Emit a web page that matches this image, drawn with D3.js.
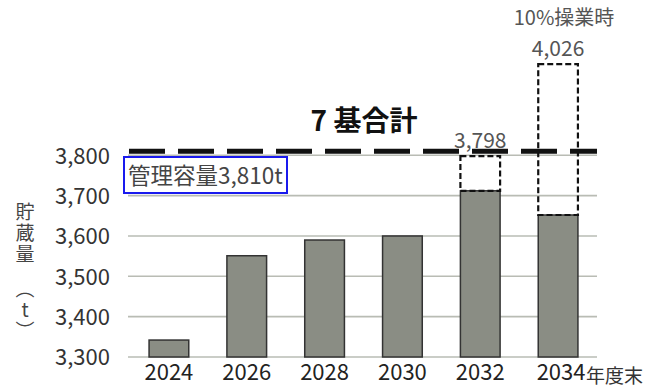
<!DOCTYPE html>
<html>
<head>
<meta charset="utf-8">
<script src="https://cdn.jsdelivr.net/npm/d3@7"></script>
<style>
  body { margin: 0; background: #fff; }
  svg text { font-family: "Noto Sans CJK JP", "Noto Sans", sans-serif; }
</style>
</head>
<body>
<div id="chart"></div>
<script>
// data
const years = ["2024", "2026", "2028", "2030", "2032", "2034"];
const stock = [3342, 3551, 3590, 3600, 3712, 3652];
const extra = [null, null, null, null, 3798, 4026];   // dashed boxes
const extraLabels = [null, null, null, null, "3,798", "4,026"];
const yTicks = [3300, 3400, 3500, 3600, 3700, 3800];
const capacity = 3810;

const W = 660, H = 390;

const svg = d3.select("#chart").append("svg")
    .attr("width", W)
    .attr("height", H);

// scales
const x = d3.scaleBand()
    .domain(years)
    .range([130, 597])
    .paddingInner(0.49)
    .paddingOuter(0.245);

const y = d3.scaleLinear()
    .domain([3300, 3800])
    .range([357, 155.3]);

const fmt = d3.format(",");

// gridlines
svg.append("g").selectAll("line")
    .data(yTicks)
    .enter().append("line")
    .attr("x1", 128).attr("x2", 597)
    .attr("y1", d => y(d)).attr("y2", d => y(d))
    .attr("stroke", "#b9bcb4")
    .attr("stroke-width", 1.6);

// y axis labels
let yAxis = d3.axisLeft(y).tickValues(yTicks).tickFormat(fmt).tickSize(0).tickPadding(0);
let gy = svg.append("g").attr("transform", "translate(110,0)").call(yAxis);
gy.select(".domain").remove();
gy.selectAll("text")
    .attr("font-size", "22px")
    .attr("fill", "#333")
    .attr("dy", "0.35em");

// x axis labels
let xAxis = d3.axisBottom(x).tickSize(0).tickPadding(0);
let gx = svg.append("g").attr("transform", "translate(0,363)").call(xAxis);
gx.select(".domain").remove();
gx.selectAll("text")
    .attr("font-size", "22px")
    .attr("fill", "#222")
    .attr("dy", "0.78em");
// last label sits a bit right, next to the unit
gx.selectAll(".tick").filter(d => d == "2034").select("text").attr("dx", "3");

svg.append("text")
    .attr("x", 586).attr("y", 383)
    .attr("font-size", "19px")
    .attr("fill", "#333")
    .text("年度末");

// bars
svg.append("g").selectAll("rect")
    .data(years)
    .enter().append("rect")
    .attr("x", d => x(d))
    .attr("y", (d, i) => y(stock[i]))
    .attr("width", x.bandwidth())
    .attr("height", (d, i) => y(3300) - y(stock[i]))
    .attr("fill", "#8a8d84")
    .attr("stroke", "#333")
    .attr("stroke-width", 1.5);

// dashed boxes for projected values
let ext = years.map((d, i) => ({year: d, top: extra[i], base: stock[i], label: extraLabels[i]}))
    .filter(d => d.top != null);

svg.append("g").selectAll("rect")
    .data(ext)
    .enter().append("rect")
    .attr("x", d => x(d.year))
    .attr("y", d => y(d.top))
    .attr("width", x.bandwidth())
    .attr("height", d => y(d.base) - y(d.top))
    .attr("fill", "none")
    .attr("stroke", "#111")
    .attr("stroke-width", 2.2)
    .attr("stroke-dasharray", "6,3");

svg.append("g").selectAll("text")
    .data(ext)
    .enter().append("text")
    .attr("x", d => x(d.year) + x.bandwidth() / 2)
    .attr("y", d => y(d.top) - 8)
    .attr("text-anchor", "middle")
    .attr("font-size", "21px")
    .attr("fill", "#555")
    .text(d => d.label);

svg.append("text")
    .attr("x", 564).attr("y", 25)
    .attr("text-anchor", "middle")
    .attr("font-size", "20px")
    .attr("fill", "#555")
    .text("10%操業時");

// capacity line
svg.append("line")
    .attr("x1", 129).attr("x2", 597)
    .attr("y1", y(capacity)).attr("y2", y(capacity))
    .attr("stroke", "#111")
    .attr("stroke-width", 5)
    .attr("stroke-dasharray", "36,13");

svg.append("text")
    .attr("x", 364).attr("y", 131)
    .attr("text-anchor", "middle")
    .attr("font-size", "28px")
    .attr("font-weight", "bold")
    .attr("fill", "#111")
    .text("7 基合計");

// capacity box
svg.append("rect")
    .attr("x", 124).attr("y", 157)
    .attr("width", 163).attr("height", 36)
    .attr("fill", "#fff")
    .attr("stroke", "#1a1aee")
    .attr("stroke-width", 2);

svg.append("text")
    .attr("x", 128).attr("y", 184)
    .attr("font-size", "22.5px")
    .attr("fill", "#444")
    .text("管理容量" + fmt(capacity) + "t");

// y axis title, vertical
let yTitle = svg.append("text")
    .attr("x", 25).attr("y", 202)
    .style("writing-mode", "vertical-rl")
    .style("text-orientation", "upright")
    .attr("font-size", "19px")
    .attr("letter-spacing", "2px")
    .attr("fill", "#444");
yTitle.append("tspan").text("貯蔵量");
yTitle.append("tspan").attr("dy", 14).text("（t）");
</script>
</body>
</html>
